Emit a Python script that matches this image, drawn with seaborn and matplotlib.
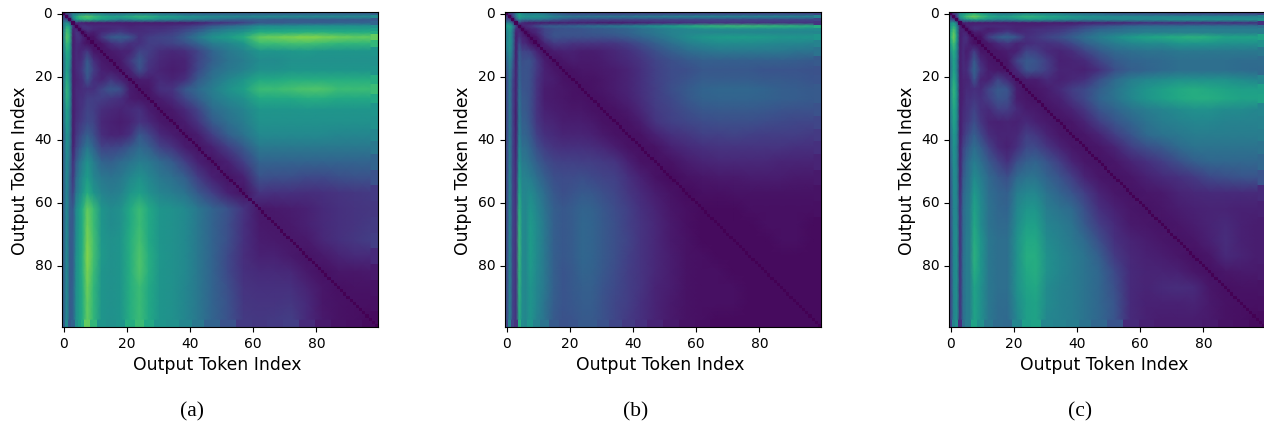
import numpy as np
import seaborn as sns
import matplotlib.pyplot as plt

# distances, in percent of the colour scale.
# the matrices are symmetric, so only the lower triangle is kept.
# each row/column covers the token range given by bin_edges.
bin_edges = [0, 1, 2, 3, 4, 5, 6, 7, 9, 11, 14, 17, 20, 23, 26, 29, 33, 37, 41, 45,
             50, 55, 60, 65, 70, 75, 80, 85, 90, 95, 100]
self_distance = 0

panel_a = [
    [0],
    [25, 0],
    [25, 25, 0],
    [40, 50, 35, 0],
    [38, 60, 55, 15, 0],
    [40, 68, 60, 10, 12, 0],
    [42, 70, 62, 9, 15, 12, 0],
    [42, 74, 64, 8, 14, 15, 10, 4],
    [42, 68, 60, 8, 12, 12, 8, 5, 4],
    [40, 62, 55, 8, 12, 10, 12, 16, 6, 5],
    [35, 58, 50, 8, 12, 12, 15, 28, 14, 7, 5],
    [35, 58, 42, 8, 12, 14, 18, 30, 18, 9, 7, 5],
    [38, 62, 46, 8, 10, 12, 14, 26, 14, 10, 16, 10, 5],
    [38, 66, 50, 8, 12, 12, 13, 14, 14, 20, 27, 24, 8, 5],
    [38, 64, 50, 8, 12, 14, 14, 18, 18, 18, 16, 14, 8, 6, 5],
    [35, 58, 46, 8, 12, 14, 16, 20, 18, 13, 11, 10, 12, 14, 8, 5],
    [34, 56, 44, 8, 14, 16, 18, 22, 20, 11, 9, 8, 10, 15, 12, 7, 5],
    [30, 52, 42, 8, 16, 20, 24, 30, 24, 13, 10, 10, 14, 27, 21, 12, 8, 5],
    [30, 50, 40, 9, 20, 26, 32, 40, 32, 20, 20, 22, 28, 34, 30, 20, 15, 8, 5],
    [30, 48, 36, 14, 28, 36, 42, 50, 42, 32, 30, 34, 38, 42, 40, 34, 28, 18, 9, 5],
    [30, 48, 32, 16, 34, 42, 48, 55, 46, 40, 38, 40, 46, 50, 46, 40, 36, 30, 18, 9, 5],
    [30, 46, 30, 20, 40, 46, 52, 62, 52, 45, 42, 44, 52, 56, 50, 45, 42, 38, 28, 19, 9, 5],
    [30, 48, 30, 28, 48, 55, 62, 76, 68, 52, 48, 50, 60, 68, 60, 52, 50, 47, 40, 32, 25, 15, 6],
    [30, 48, 28, 28, 48, 55, 62, 78, 68, 52, 48, 50, 60, 68, 60, 52, 50, 47, 40, 32, 24, 14, 7, 6],
    [30, 48, 28, 30, 48, 56, 62, 80, 70, 53, 50, 52, 62, 70, 60, 52, 50, 47, 40, 32, 24, 14, 8, 7, 6],
    [30, 48, 28, 30, 50, 56, 64, 82, 70, 54, 50, 52, 62, 72, 62, 53, 50, 47, 40, 32, 22, 13, 9, 9, 7, 5],
    [30, 48, 28, 30, 50, 56, 64, 80, 68, 52, 50, 52, 62, 72, 62, 52, 50, 47, 40, 32, 22, 14, 12, 12, 11, 7, 4],
    [30, 48, 28, 32, 50, 56, 62, 78, 66, 52, 50, 52, 62, 68, 60, 52, 50, 46, 40, 32, 24, 15, 14, 14, 14, 10, 6, 4],
    [30, 48, 28, 32, 50, 56, 62, 76, 66, 52, 50, 52, 62, 68, 60, 52, 50, 46, 40, 32, 25, 16, 15, 15, 16, 12, 6, 5, 4],
    [30, 48, 28, 32, 50, 56, 62, 76, 66, 52, 50, 52, 62, 68, 60, 52, 50, 46, 40, 32, 25, 17, 16, 17, 18, 12, 7, 5, 4, 3],
]

panel_b = [
    [0],
    [20, 0],
    [22, 20, 0],
    [40, 42, 25, 0],
    [55, 58, 45, 20, 0],
    [45, 55, 40, 12, 10, 0],
    [42, 52, 38, 9, 12, 8, 0],
    [40, 52, 38, 8, 15, 10, 8, 3],
    [42, 52, 38, 8, 22, 12, 12, 6, 3],
    [38, 50, 35, 8, 28, 20, 20, 18, 10, 4],
    [30, 45, 30, 8, 30, 24, 25, 25, 17, 8, 4],
    [25, 42, 25, 9, 30, 25, 26, 24, 17, 9, 6, 4],
    [22, 40, 22, 9, 32, 25, 26, 24, 15, 9, 8, 5, 4],
    [22, 40, 20, 9, 34, 26, 26, 24, 15, 8, 7, 6, 5, 4],
    [22, 40, 20, 9, 36, 27, 27, 24, 15, 8, 7, 6, 5, 5, 4],
    [20, 40, 20, 8, 38, 28, 28, 24, 15, 9, 8, 7, 6, 6, 5, 4],
    [20, 40, 20, 8, 40, 30, 30, 25, 16, 11, 10, 8, 8, 8, 7, 5, 4],
    [20, 40, 20, 9, 42, 32, 32, 28, 19, 14, 12, 10, 10, 10, 9, 7, 5, 4],
    [20, 42, 20, 10, 46, 36, 36, 32, 24, 18, 15, 14, 14, 14, 13, 11, 8, 5, 4],
    [20, 42, 20, 12, 50, 40, 40, 36, 30, 24, 20, 19, 19, 18, 18, 17, 15, 9, 5, 4],
    [20, 44, 20, 13, 55, 44, 44, 42, 36, 30, 24, 23, 23, 24, 22, 20, 19, 14, 9, 5, 3],
    [20, 44, 20, 14, 60, 46, 46, 48, 42, 35, 27, 24, 26, 28, 27, 24, 21, 16, 12, 8, 5, 3],
    [20, 45, 20, 15, 64, 48, 46, 52, 46, 38, 30, 27, 29, 32, 31, 27, 23, 19, 14, 10, 6, 4, 3],
    [20, 45, 20, 15, 66, 48, 46, 54, 48, 40, 30, 27, 29, 33, 32, 28, 24, 19, 15, 11, 7, 4, 3, 3],
    [20, 45, 20, 15, 67, 48, 46, 55, 48, 40, 30, 27, 29, 33, 32, 28, 24, 20, 15, 11, 7, 5, 3, 3, 3],
    [20, 45, 20, 15, 67, 48, 46, 55, 48, 40, 30, 27, 29, 33, 32, 28, 24, 19, 15, 11, 8, 5, 4, 3, 3, 3],
    [20, 45, 20, 15, 66, 48, 46, 54, 47, 40, 30, 26, 28, 32, 31, 27, 23, 18, 15, 11, 8, 5, 4, 4, 3, 3, 3],
    [20, 45, 20, 15, 65, 48, 46, 52, 46, 40, 30, 26, 28, 30, 30, 26, 22, 18, 15, 10, 8, 5, 4, 4, 4, 3, 3, 3],
    [20, 45, 20, 15, 64, 48, 46, 52, 46, 38, 29, 26, 27, 29, 29, 25, 21, 18, 14, 10, 7, 5, 4, 4, 4, 3, 3, 3, 3],
    [20, 45, 20, 15, 62, 48, 46, 52, 44, 38, 28, 25, 26, 28, 28, 25, 21, 17, 14, 10, 7, 5, 4, 3, 3, 3, 3, 3, 3, 3],
]

panel_c = [
    [0],
    [20, 0],
    [22, 20, 0],
    [48, 55, 35, 0],
    [50, 62, 45, 10, 0],
    [55, 70, 50, 9, 10, 0],
    [58, 74, 52, 8, 10, 9, 0],
    [62, 78, 56, 8, 12, 14, 8, 4],
    [55, 70, 52, 8, 12, 12, 8, 4, 4],
    [48, 62, 48, 8, 12, 8, 10, 18, 6, 5],
    [40, 58, 44, 8, 12, 10, 14, 28, 12, 6, 5],
    [38, 58, 44, 8, 12, 12, 18, 32, 16, 8, 6, 5],
    [42, 62, 48, 8, 10, 10, 12, 26, 10, 9, 20, 12, 5],
    [45, 66, 52, 8, 10, 12, 12, 14, 12, 20, 28, 26, 8, 5],
    [44, 64, 52, 8, 10, 14, 14, 16, 14, 18, 26, 24, 8, 6, 5],
    [42, 60, 50, 8, 12, 14, 16, 20, 14, 12, 18, 18, 12, 8, 7, 5],
    [40, 58, 48, 8, 13, 16, 18, 24, 16, 10, 9, 10, 9, 12, 9, 7, 5],
    [36, 54, 46, 8, 15, 20, 24, 30, 22, 13, 10, 10, 11, 18, 16, 10, 6, 5],
    [34, 52, 44, 9, 20, 26, 30, 36, 30, 20, 12, 9, 14, 22, 22, 16, 10, 6, 5],
    [32, 50, 44, 10, 24, 32, 36, 42, 36, 28, 20, 14, 24, 30, 32, 26, 18, 10, 6, 5],
    [28, 48, 46, 10, 28, 34, 38, 48, 42, 34, 28, 24, 34, 38, 38, 32, 26, 18, 10, 6, 5],
    [26, 48, 46, 12, 32, 38, 40, 54, 46, 36, 32, 30, 42, 46, 46, 38, 32, 26, 18, 10, 6, 5],
    [25, 46, 46, 14, 34, 40, 42, 58, 48, 38, 33, 32, 46, 52, 52, 42, 38, 34, 24, 14, 9, 6, 5],
    [24, 46, 48, 14, 34, 40, 42, 60, 48, 38, 34, 34, 48, 56, 56, 45, 42, 38, 28, 18, 12, 7, 6, 5],
    [22, 46, 50, 14, 34, 42, 42, 62, 52, 40, 36, 36, 50, 60, 60, 48, 44, 40, 34, 24, 14, 10, 8, 6, 5],
    [22, 46, 50, 14, 36, 42, 42, 64, 52, 40, 36, 36, 50, 62, 62, 50, 46, 42, 38, 30, 17, 11, 9, 8, 6, 4],
    [22, 46, 50, 14, 36, 42, 42, 62, 52, 40, 36, 36, 50, 60, 62, 50, 46, 42, 38, 33, 22, 12, 10, 10, 9, 6, 4],
    [20, 46, 50, 14, 36, 42, 42, 58, 50, 40, 36, 36, 50, 58, 60, 48, 44, 42, 38, 33, 24, 12, 10, 12, 13, 12, 6, 4],
    [20, 45, 50, 14, 36, 42, 42, 58, 50, 40, 35, 35, 48, 56, 58, 48, 44, 42, 38, 33, 26, 12, 9, 9, 9, 10, 7, 5, 4],
    [20, 45, 50, 14, 36, 42, 42, 58, 50, 40, 35, 34, 46, 56, 58, 46, 44, 42, 38, 33, 26, 12, 9, 8, 8, 8, 7, 5, 4, 3],
]

panels = [panel_a, panel_b, panel_c]
captions = ["(a)", "(b)", "(c)"]
axis_label = "Output Token Index"
tick_values = [0, 20, 40, 60, 80]


def to_symmetric(rows):
    n = len(rows)
    m = np.zeros((n, n))
    for i, row in enumerate(rows):
        m[i, : i + 1] = row
    return m + m.T - np.diag(np.diag(m))


fig = plt.figure(figsize=(12.64, 4.25), dpi=100)
lefts = [62, 505, 949]
caption_x = [192, 636, 1080]
sizes = np.diff(bin_edges)
centers = np.array(bin_edges[:-1]) + sizes / 2
n_tokens = bin_edges[-1]

for rows, caption, left, cap_x in zip(panels, captions, lefts, caption_x):
    ax = fig.add_axes([left / 1264, 1 - 327 / 425, 316 / 1264, 315 / 425])
    m = to_symmetric(rows)
    full = np.repeat(np.repeat(m, sizes, axis=0), sizes, axis=1)
    sns.heatmap(full, ax=ax, cmap="viridis", vmin=0, vmax=100, cbar=False)
    # the original is a smoothed image, let the renderer shade between the bins
    ax.pcolormesh(centers, centers, m, cmap="viridis", vmin=0, vmax=100, shading="gouraud")
    # each token against itself, one cell wide
    sns.heatmap(np.full((n_tokens, n_tokens), self_distance), mask=~np.eye(n_tokens, dtype=bool),
                ax=ax, cmap="viridis", vmin=0, vmax=100, cbar=False)
    for spine in ax.spines.values():
        spine.set_visible(True)
        spine.set_linewidth(0.8)
    ticks = [t + 0.5 for t in tick_values]
    ax.set_xticks(ticks, labels=tick_values, rotation=0, fontsize=10)
    ax.set_yticks(ticks, labels=tick_values, rotation=0, fontsize=10)
    ax.set_xlabel(axis_label, fontsize=12.4, x=0.491)
    ax.set_ylabel(axis_label, fontsize=12.4, y=0.495)
    fig.text(cap_x / 1264, 1 - 412 / 425, caption, family="Liberation Serif", fontsize=15.5,
             ha="center", va="center")

fig.savefig("out.png", dpi=100)
